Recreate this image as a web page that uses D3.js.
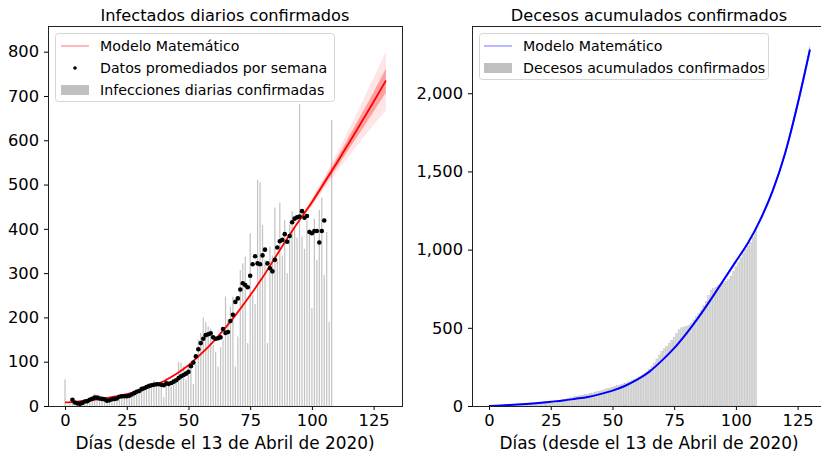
<!DOCTYPE html>
<html>
<head>
<meta charset="utf-8">
<script src="https://cdn.jsdelivr.net/npm/d3@7"></script>
<style>
body { margin: 0; background: #fff; }
text { font-family: "DejaVu Sans", sans-serif; }
</style>
</head>
<body>
<script>
// infecciones diarias confirmadas, dia 0 .. 108
var casosDiarios = [60, 2, 5, 18, 3, 6, 2, 10, 12, 8,
	20, 15, 28, 18, 25, 14, 12, 10, 16, 8,
	18, 22, 15, 25, 28, 20, 24, 30, 36, 28,
	40, 45, 35, 48, 52, 40, 58, 50, 42, 55,
	20, 62, 48, 45, 55, 60, 100, 98, 90, 60,
	92, 85, 50, 95, 150, 165, 200, 190, 180, 175,
	138, 122, 89, 133, 150, 247, 196, 225, 247, 89,
	157, 307, 322, 337, 142, 390, 250, 230, 511, 505,
	409, 330, 142, 360, 340, 448, 330, 459, 340, 420,
	300, 410, 440, 400, 380, 682, 383, 355, 420, 400,
	221, 423, 330, 443, 470, 296, 393, 190, 646];

// promedio semanal (centrado), dia 3 .. 105
var promedioInicio = 3;
var promedioSemanal = [14, 8, 6, 5, 7, 10, 11, 14, 16, 19,
	19, 17, 16, 15, 12, 13, 15, 16, 17, 21,
	22, 22, 22, 23, 26, 29, 32, 34, 38, 40,
	43, 45, 47, 48, 49, 49, 48, 47, 51, 50,
	52, 55, 58, 63, 67, 70, 73, 77, 90, 98,
	112, 128, 142, 152, 160, 162, 164, 155, 152, 153,
	155, 174, 165, 167, 192, 206, 235, 243, 263, 277,
	273, 268, 294, 320, 338, 322, 320, 340, 353, 322,
	311, 304, 330, 358, 372, 375, 388, 371, 384, 415,
	423, 426, 428, 440, 425, 429, 393, 390, 395, 395,
	369, 395, 419];

// modelo matematico (cada 5 dias)
var modeloDias = [0, 5, 10, 15, 20, 25, 30, 35, 40, 45, 50, 55, 60, 65, 70, 75, 80, 85, 90, 95, 100, 105, 110, 115, 120, 125, 130];
var modeloInfectados = [8, 10, 13, 16, 21, 27, 34, 44, 56, 72, 92, 117, 145, 177, 212, 250, 290, 334, 378, 420, 460, 504, 548, 594, 640, 687, 735];
var modeloDecesos = [0, 3, 8, 13, 19, 27, 35, 46, 58, 76, 98, 128, 168, 220, 290, 370, 465, 570, 685, 805, 925, 1045, 1195, 1380, 1620, 1930, 2280];

// dispersion de las simulaciones
var bandaDias = [95, 100, 105, 110, 115, 120, 125, 130];
var infExtBaja = [418, 450, 490, 528, 565, 600, 635, 668];
var infExtAlta = [422, 470, 518, 570, 625, 682, 742, 800];
var infIntBaja = [419, 455, 497, 538, 580, 622, 665, 708];
var infIntAlta = [421, 465, 511, 558, 608, 658, 709, 762];
var decBaja = [803, 920, 1038, 1185, 1368, 1602, 1905, 2255];
var decAlta = [807, 930, 1052, 1205, 1392, 1638, 1955, 2305];

// decesos acumulados confirmados, dia 0 .. 108
var decesosAcumulados = [1, 2, 3, 4, 5, 6, 7, 8, 9, 10,
	11, 12, 13, 14, 15, 17, 19, 21, 23, 24,
	25, 26, 27, 28, 30, 31, 32, 34, 36, 38,
	40, 44, 48, 52, 56, 60, 63, 66, 69, 72,
	75, 79, 83, 87, 91, 95, 100, 105, 110, 115,
	120, 125, 130, 134, 138, 143, 148, 155, 162, 170,
	178, 186, 195, 205, 218, 235, 252, 275, 300, 325,
	348, 365, 380, 400, 420, 440, 462, 487, 500, 505,
	508, 515, 530, 550, 572, 590, 612, 640, 670, 705,
	740, 750, 760, 770, 780, 786, 797, 808, 830, 860,
	890, 915, 947, 975, 1000, 1021, 1045, 1077, 1128];

var ticksX = [0, 25, 50, 75, 100, 125];
var ticksInf = [0, 100, 200, 300, 400, 500, 600, 700, 800];
var ticksDec = [0, 500, 1000, 1500, 2000];

var W = 821, H = 454, plotTop = 26, plotBottom = 406, plotW = 354;

var svg = d3.select('body').append('svg')
	.attr('width', W)
	.attr('height', H);

function panel(opt) {
	var x = d3.scaleLinear().domain([-6.9, 136.5]).range([opt.x0, opt.x0 + plotW]);
	var y = d3.scaleLinear().domain([0, opt.ymax]).range([plotBottom, plotTop]);
	var cx = opt.x0 + plotW / 2;

	var g = svg.append('g');

	g.append('clipPath').attr('id', opt.id)
		.append('rect')
		.attr('x', opt.x0).attr('y', plotTop)
		.attr('width', plotW).attr('height', plotBottom - plotTop);

	var plot = g.append('g').attr('clip-path', 'url(#' + opt.id + ')');

	// ejes
	g.append('g')
		.attr('transform', 'translate(0,' + plotBottom + ')')
		.call(d3.axisBottom(x).tickValues(ticksX).tickSize(4).tickPadding(4).tickFormat(d3.format('d')))
		.call(function(a) { a.select('.domain').remove(); a.selectAll('text').style('font-size', '16.3px').attr('fill', '#000'); });

	g.append('g')
		.attr('transform', 'translate(' + opt.x0 + ',0)')
		.call(d3.axisLeft(y).tickValues(opt.ticks).tickSize(4).tickPadding(5).tickFormat(d3.format(',')))
		.call(function(a) { a.select('.domain').remove(); a.selectAll('text').style('font-size', '16.3px').attr('fill', '#000'); });

	g.append('text')
		.attr('x', cx)
		.attr('y', 21)
		.attr('text-anchor', 'middle')
		.style('font-size', '16.2px')
		.text(opt.title);

	g.append('text')
		.attr('x', cx)
		.attr('y', 449)
		.attr('text-anchor', 'middle')
		.style('font-size', '16.9px')
		.text('Días (desde el 13 de Abril de 2020)');

	return {x: x, y: y, g: g, plot: plot};
}

// ---------- panel izquierdo ----------
var p1 = panel({id: 'c1', x0: 48, ymax: 858, ticks: ticksInf, title: 'Infectados diarios confirmados'});

p1.plot.selectAll('rect.bar')
	.data(casosDiarios)
	.enter().append('rect')
		.attr('class', 'bar')
		.attr('x', function(d, i) { return p1.x(i - 0.25); })
		.attr('width', p1.x(0.5) - p1.x(0))
		.attr('y', function(d) { return p1.y(d); })
		.attr('height', function(d) { return plotBottom - p1.y(d); })
		.attr('fill', '#c4c4c4');

var bandaExt = d3.area()
	.x(function(d, i) { return p1.x(bandaDias[i]); })
	.y0(function(d, i) { return p1.y(infExtBaja[i]); })
	.y1(function(d, i) { return p1.y(infExtAlta[i]); })
	.curve(d3.curveMonotoneX);
var bandaInt = d3.area()
	.x(function(d, i) { return p1.x(bandaDias[i]); })
	.y0(function(d, i) { return p1.y(infIntBaja[i]); })
	.y1(function(d, i) { return p1.y(infIntAlta[i]); })
	.curve(d3.curveMonotoneX);

p1.plot.append('path').attr('d', bandaExt(bandaDias)).attr('fill', '#ff0000').attr('fill-opacity', 0.1);
p1.plot.append('path').attr('d', bandaInt(bandaDias)).attr('fill', '#ff0000').attr('fill-opacity', 0.3);

var lineaInf = d3.line()
	.x(function(d, i) { return p1.x(modeloDias[i]); })
	.y(function(d) { return p1.y(d); })
	.curve(d3.curveMonotoneX);

p1.plot.append('path')
	.attr('d', lineaInf(modeloInfectados))
	.attr('fill', 'none')
	.attr('stroke', '#ff0000')
	.attr('stroke-width', 1.8);

p1.plot.selectAll('circle.prom')
	.data(promedioSemanal)
	.enter().append('circle')
		.attr('class', 'prom')
		.attr('cx', function(d, i) { return p1.x(i + promedioInicio); })
		.attr('cy', function(d) { return p1.y(d); })
		.attr('r', 2.3)
		.attr('fill', '#000');

p1.g.append('rect')
	.attr('x', 48.5).attr('y', 26.5).attr('width', plotW).attr('height', 380)
	.attr('fill', 'none').attr('stroke', '#222').attr('stroke-width', 1);

// leyenda izquierda
var ley1 = p1.g.append('g');
ley1.append('rect')
	.attr('x', 55.5).attr('y', 33.5).attr('width', 279).attr('height', 68).attr('rx', 3)
	.attr('fill', '#fff').attr('fill-opacity', 0.8).attr('stroke', '#d6d6d6');
ley1.append('line').attr('x1', 61).attr('x2', 89).attr('y1', 46).attr('y2', 46).attr('stroke', '#ff0000').attr('stroke-width', 0.8).attr('stroke-opacity', 0.7);
ley1.append('circle').attr('cx', 75).attr('cy', 68).attr('r', 1.8).attr('fill', '#000');
ley1.append('rect').attr('x', 61).attr('y', 85).attr('width', 28).attr('height', 10).attr('fill', '#c0c0c0');
ley1.selectAll('text')
	.data(['Modelo Matemático', 'Datos promediados por semana', 'Infecciones diarias confirmadas'])
	.enter().append('text')
		.attr('x', 100)
		.attr('y', function(d, i) { return 46 + i * 22; })
		.attr('dy', '0.35em')
		.style('font-size', '14.2px')
		.text(function(d) { return d; });

// ---------- panel derecho ----------
var p2 = panel({id: 'c2', x0: 472, ymax: 2430, ticks: ticksDec, title: 'Decesos acumulados confirmados'});

p2.plot.selectAll('rect.bar')
	.data(decesosAcumulados)
	.enter().append('rect')
		.attr('class', 'bar')
		.attr('x', function(d, i) { return p2.x(i - 0.4); })
		.attr('width', p2.x(0.8) - p2.x(0))
		.attr('y', function(d) { return p2.y(d); })
		.attr('height', function(d) { return plotBottom - p2.y(d); })
		.attr('fill', '#dddddd')
		.attr('stroke', '#b4b4b4')
		.attr('stroke-width', 0.4);

var bandaDec = d3.area()
	.x(function(d, i) { return p2.x(bandaDias[i]); })
	.y0(function(d, i) { return p2.y(decBaja[i]); })
	.y1(function(d, i) { return p2.y(decAlta[i]); })
	.curve(d3.curveMonotoneX);
p2.plot.append('path').attr('d', bandaDec(bandaDias)).attr('fill', '#0000ff').attr('fill-opacity', 0.5);

var lineaDec = d3.line()
	.x(function(d, i) { return p2.x(modeloDias[i]); })
	.y(function(d) { return p2.y(d); })
	.curve(d3.curveMonotoneX);

p2.plot.append('path')
	.attr('d', lineaDec(modeloDecesos))
	.attr('fill', 'none')
	.attr('stroke', '#0000ff')
	.attr('stroke-width', 2);

p2.g.append('rect')
	.attr('x', 472.5).attr('y', 26.5).attr('width', plotW).attr('height', 380)
	.attr('fill', 'none').attr('stroke', '#222').attr('stroke-width', 1);

// leyenda derecha
var ley2 = p2.g.append('g');
ley2.append('rect')
	.attr('x', 479.5).attr('y', 33.5).attr('width', 289).attr('height', 46).attr('rx', 3)
	.attr('fill', '#fff').attr('fill-opacity', 0.8).attr('stroke', '#d6d6d6');
ley2.append('line').attr('x1', 484).attr('x2', 512).attr('y1', 46).attr('y2', 46).attr('stroke', '#0000ff').attr('stroke-width', 0.8).attr('stroke-opacity', 0.7);
ley2.append('rect').attr('x', 484).attr('y', 63).attr('width', 28).attr('height', 10).attr('fill', '#c0c0c0');
ley2.selectAll('text')
	.data(['Modelo Matemático', 'Decesos acumulados confirmados'])
	.enter().append('text')
		.attr('x', 523)
		.attr('y', function(d, i) { return 46 + i * 22; })
		.attr('dy', '0.35em')
		.style('font-size', '14.2px')
		.text(function(d) { return d; });
</script>
</body>
</html>
